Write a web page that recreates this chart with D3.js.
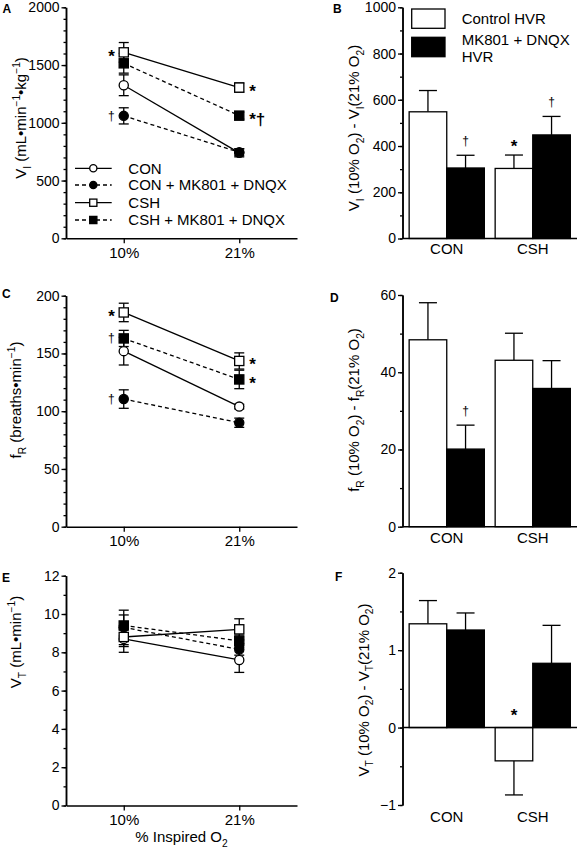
<!DOCTYPE html>
<html><head><meta charset="utf-8">
<script src="https://cdn.jsdelivr.net/npm/d3@7"></script>
<style>
body{margin:0;background:#fff}
svg text{font-family:"Liberation Sans",Arial,Helvetica,sans-serif;fill:#000}
</style>
</head><body>
<svg id="c" width="578" height="848"></svg>
<script>
// ---------- DATA ----------
const o2Levels = ["10%", "21%"];
const lineSeries = ["CON", "CON + MK801 + DNQX", "CSH", "CSH + MK801 + DNQX"];
const lineFilled = [false, true, false, true];
const lineShape = ["circle", "circle", "square", "square"];
const lineDashed = [false, true, false, true];

// Panel A: VI (mL/min/kg), [10%, 21%] per series
const viMeans = [[1325, 740], [1060, 745], [1610, 1305], [1515, 1062]];
const viErr   = [[90, 35], [70, 30], [85, 40], [85, 30]];
const viTicks = [0, 500, 1000, 1500, 2000];
// Panel C: fR (breaths/min)
const frMeans = [[152, 104], [110.5, 90], [185.5, 143.5], [163, 127.5]];
const frErr   = [[12, 2], [8, 4], [8, 7], [7, 8]];
const frTicks = [0, 50, 100, 150, 200];
// Panel E: VT (mL/min)
const vtMeans = [[8.7, 7.6], [9.3, 8.15], [8.8, 9.2], [9.4, 8.6]];
const vtErr   = [[0.7, 0.65], [0.9, 0.3], [0.5, 0.55], [0.55, 0.3]];
const vtTicks = [0, 2, 4, 6, 8, 10, 12];

const groups = ["CON", "CSH"];
const barSeries = ["Control HVR", "MK801 + DNQX HVR"];
// Panel B
const hvrVI    = [[548, 305], [303, 448]];
const hvrVIErr = [[92, 55], [58, 80]];
const hvrVITicks = [0, 200, 400, 600, 800, 1000];
// Panel D
const hvrFR    = [[48.4, 20.1], [43.1, 35.8]];
const hvrFRErr = [[9.6, 6.2], [7.0, 7.2]];
const hvrFRTicks = [0, 20, 40, 60];
// Panel F
const hvrVT    = [[1.34, 1.26], [-0.43, 0.83]];
const hvrVTErr = [[0.30, 0.22], [0.44, 0.49]];
const hvrVTTicks = [-1, 0, 1, 2];

// significance marks: series index, level index, text
const annA = [[2, 0, "*"], [1, 0, "†"], [2, 1, "*"], [3, 1, "*†"]];
const annC = [[2, 0, "*"], [3, 0, "†"], [1, 0, "†"], [2, 1, "*"], [3, 1, "*"]];
// bar marks: group index, series index, text
const annB = [[0, 1, "†"], [1, 0, "*"], [1, 1, "†"]];
const annD = [[0, 1, "†"]];
const annF = [[1, 0, "*"]];

// ---------- DRAWING ----------
const svg = d3.select("#c");
const LX0 = 66, LX1 = 297, RX0 = 402.5, RX1 = 577;
const intFmt = d3.format("d");

function styleAxis(sel, fs) {
  sel.select(".domain").attr("stroke", "#000").attr("stroke-width", 1.5);
  sel.selectAll(".tick line").attr("stroke", "#000").attr("stroke-width", 1.3);
  sel.selectAll(".tick text").style("font-size", fs + "px").attr("fill", "#000");
}

function rich(textSel, parts, fs) {
  let cur = 0;
  parts.forEach(([t, k]) => {
    const target = k === "sub" ? fs * 0.3 : k === "sup" ? -fs * 0.42 : 0;
    textSel.append("tspan").attr("dy", target - cur)
      .style("font-size", (k === "n" ? fs : fs * 0.68) + "px").text(t);
    cur = target;
  });
}

function yLabel(parts, cx, cy) {
  const t = svg.append("text")
    .attr("transform", `translate(${cx},${cy}) rotate(-90)`)
    .attr("text-anchor", "middle").attr("y", 5.2);
  rich(t, parts, 15);
}

function letter(l, x, y) {
  svg.append("text").attr("x", x).attr("y", y).style("font-size", "12px")
    .style("font-weight", "bold").text(l);
}

function yAxes(y, x0, ticks, minorStep) {
  const d = y.domain();
  svg.append("g").attr("transform", `translate(${x0},0)`)
    .call(d3.axisLeft(y).tickValues(d3.range(d[0], d[1] + 1e-9, minorStep)).tickSize(2.5).tickFormat("").tickSizeOuter(0))
    .call(s => styleAxis(s, 14));
  const ax = d3.axisLeft(y).tickValues(ticks).tickSize(4.5).tickPadding(2).tickSizeOuter(0).tickFormat(intFmt);
  svg.append("g").attr("transform", `translate(${x0},0)`).call(ax).call(s => styleAxis(s, 14));
}

function mark(t, x, y, anchor) {
  const isStar = t.startsWith("*");
  svg.append("text").attr("x", x).attr("y", y + (isStar ? 9.5 : 4))
    .attr("text-anchor", anchor)
    .style("font-size", isStar ? "17px" : "12px")
    .style("font-weight", isStar ? "bold" : "normal")
    .text(t);
}

function linePanel(o) {
  const y = d3.scaleLinear().domain(o.domain).range([o.yb, o.yt]);
  const x = d3.scalePoint().domain(o2Levels).range([LX0, LX1]).padding(0.5);
  yAxes(y, LX0, o.ticks, o.minor);
  svg.append("g").attr("transform", `translate(0,${y(o.domain[0])})`)
    .call(d3.axisBottom(x).tickSize(5).tickPadding(4).tickSizeOuter(0))
    .call(s => styleAxis(s, 15));
  const line = d3.line().x((d, i) => x(o2Levels[i])).y(d => y(d));
  o.means.forEach((m, s) => {
    svg.append("path").attr("d", line(m)).attr("fill", "none").attr("stroke", "#000")
      .attr("stroke-width", 1.3).attr("stroke-dasharray", lineDashed[s] ? "4,3" : null);
  });
  o.means.forEach((m, s) => {
    m.forEach((v, c) => {
      const cx = x(o2Levels[c]), e = o.err[s][c];
      const eg = svg.append("g").attr("stroke", "#000").attr("stroke-width", 1.3);
      eg.append("line").attr("x1", cx).attr("x2", cx).attr("y1", y(v - e)).attr("y2", y(v + e));
      [v - e, v + e].forEach(w => eg.append("line").attr("x1", cx - 5).attr("x2", cx + 5).attr("y1", y(w)).attr("y2", y(w)));
    });
  });
  o.means.forEach((m, s) => {
    m.forEach((v, c) => drawMarker(x(o2Levels[c]), y(v), s, 4.6));
  });
  o.ann.forEach(([s, c, t]) => {
    const px = x(o2Levels[c]), py = y(o.means[s][c]);
    if (c === 0) mark(t, px - 9, py, "end"); else mark(t, px + 10, py, "start");
  });
}

function drawMarker(cx, cy, s, r) {
  const fill = lineFilled[s] ? "#000" : "#fff";
  if (lineShape[s] === "circle") {
    svg.append("circle").attr("cx", cx).attr("cy", cy).attr("r", r)
      .attr("fill", fill).attr("stroke", "#000").attr("stroke-width", 1.3);
  } else {
    svg.append("rect").attr("x", cx - r).attr("y", cy - r).attr("width", 2 * r).attr("height", 2 * r)
      .attr("fill", fill).attr("stroke", "#000").attr("stroke-width", 1.3);
  }
}

function barPanel(o) {
  const y = d3.scaleLinear().domain(o.domain).range([o.yb, o.yt]);
  const x = d3.scaleBand().domain(groups).range([RX0, RX1]).paddingInner(0.1256).paddingOuter(0.0773);
  const xs = d3.scaleBand().domain([0, 1]).range([0, x.bandwidth()]);
  yAxes(y, RX0, o.ticks, o.minor);
  o.values.forEach((row, gi) => {
    row.forEach((v, si) => {
      const bx = x(groups[gi]) + xs(si), w = xs.bandwidth();
      const e = o.err[gi][si], sign = v >= 0 ? 1 : -1;
      const cx = bx + w / 2;
      const eg = svg.append("g").attr("stroke", "#000").attr("stroke-width", 1.3);
      eg.append("line").attr("x1", cx).attr("x2", cx).attr("y1", y(v)).attr("y2", y(v + sign * e));
      eg.append("line").attr("x1", cx - 9).attr("x2", cx + 9).attr("y1", y(v + sign * e)).attr("y2", y(v + sign * e));
      svg.append("rect").attr("x", bx).attr("width", w)
        .attr("y", Math.min(y(v), y(0))).attr("height", Math.abs(y(v) - y(0)))
        .attr("fill", si === 1 ? "#000" : "#fff").attr("stroke", "#000").attr("stroke-width", 1.3);
    });
  });
  svg.append("line").attr("x1", RX0).attr("x2", RX1).attr("y1", y(0)).attr("y2", y(0))
    .attr("stroke", "#000").attr("stroke-width", 1.5);
  groups.forEach(gname => {
    svg.append("text").attr("x", x(gname) + x.bandwidth() / 2).attr("y", o.labelY)
      .attr("text-anchor", "middle").style("font-size", "15px").text(gname);
  });
  o.ann.forEach(([gi, si, t]) => {
    const v = o.values[gi][si], e = o.err[gi][si];
    const cx = x(groups[gi]) + xs(si) + xs.bandwidth() / 2;
    const top = v >= 0 ? y(v + e) : y(0);
    mark(t, cx, top - (t === "*" ? (v >= 0 ? 13 : 16.5) : 14.5), "middle");
  });
}

// Panel A
linePanel({domain: [0, 2000], yb: 238.3, yt: 7.3, ticks: viTicks, minor: 100, means: viMeans, err: viErr, ann: annA});
// Panel C
linePanel({domain: [0, 200], yb: 526.7, yt: 295.7, ticks: frTicks, minor: 10, means: frMeans, err: frErr, ann: annC});
// Panel E
linePanel({domain: [0, 12], yb: 805.5, yt: 575.7, ticks: vtTicks, minor: 1, means: vtMeans, err: vtErr, ann: []});

// Panel B
barPanel({domain: [0, 1000], yb: 238.5, yt: 7.3, ticks: hvrVITicks, minor: 100, values: hvrVI, err: hvrVIErr, ann: annB, labelY: 254});
// Panel D
barPanel({domain: [0, 60], yb: 526.7, yt: 295, ticks: hvrFRTicks, minor: 10, values: hvrFR, err: hvrFRErr, ann: annD, labelY: 542.5});
// Panel F
barPanel({domain: [-1, 2], yb: 805, yt: 572.7, ticks: hvrVTTicks, minor: 0.5, values: hvrVT, err: hvrVTErr, ann: annF, labelY: 821.5});

// Legend A
const legRows = [168.3, 185, 202.7, 220];
lineSeries.forEach((name, s) => {
  const yy = legRows[s];
  svg.append("line").attr("x1", 75).attr("x2", 111.7).attr("y1", yy).attr("y2", yy)
    .attr("stroke", "#000").attr("stroke-width", 1.3).attr("stroke-dasharray", lineDashed[s] ? "4,3" : null);
  drawMarker(93.3, yy, s, 3.6);
  svg.append("text").attr("x", 128.3).attr("y", yy + 5.3).style("font-size", "15px").text(name);
});

// Legend B
[[9, 28.3], [37.3, 56.7]].forEach(([a, b], i) => {
  svg.append("rect").attr("x", 411.7).attr("y", a).attr("width", 33.3).attr("height", b - a)
    .attr("fill", i ? "#000" : "#fff").attr("stroke", "#000").attr("stroke-width", 1.3);
});
svg.append("text").attr("x", 461.7).attr("y", 23.8).style("font-size", "15px").text(barSeries[0]);
svg.append("text").attr("x", 461.7).attr("y", 44.6).style("font-size", "15px").text(barSeries[1].replace(" HVR", ""));
svg.append("text").attr("x", 461.7).attr("y", 62).style("font-size", "15px").text("HVR");

// Y labels
yLabel([["V", "n"], ["I", "sub"], [" (mL•min", "n"], ["−1", "sup"], ["•kg", "n"], ["−1", "sup"], [")", "n"]], 21, 118);
yLabel([["V", "n"], ["I", "sub"], [" (10% O", "n"], ["2", "sub"], [") - V", "n"], ["I", "sub"], ["(21% O", "n"], ["2", "sub"], [")", "n"]], 354, 128);
yLabel([["f", "n"], ["R", "sub"], [" (breaths•min", "n"], ["−1", "sup"], [")", "n"]], 16, 400);
yLabel([["f", "n"], ["R", "sub"], [" (10% O", "n"], ["2", "sub"], [") - f", "n"], ["R", "sub"], ["(21% O", "n"], ["2", "sub"], [")", "n"]], 354, 410);
yLabel([["V", "n"], ["T", "sub"], [" (mL•min", "n"], ["−1", "sup"], [")", "n"]], 16, 642);
yLabel([["V", "n"], ["T", "sub"], [" (10% O", "n"], ["2", "sub"], [") - V", "n"], ["T", "sub"], ["(21% O", "n"], ["2", "sub"], [")", "n"]], 363.5, 690);

// X title E
const xt = svg.append("text").attr("x", 181.5).attr("y", 842).attr("text-anchor", "middle");
rich(xt, [["% Inspired O", "n"], ["2", "sub"]], 15);

// Panel letters
letter("A", 2.5, 13.3); letter("B", 333, 13.3);
letter("C", 2, 298.3); letter("D", 330, 301.7);
letter("E", 2, 581.7); letter("F", 335, 581);
</script>
</body></html>
